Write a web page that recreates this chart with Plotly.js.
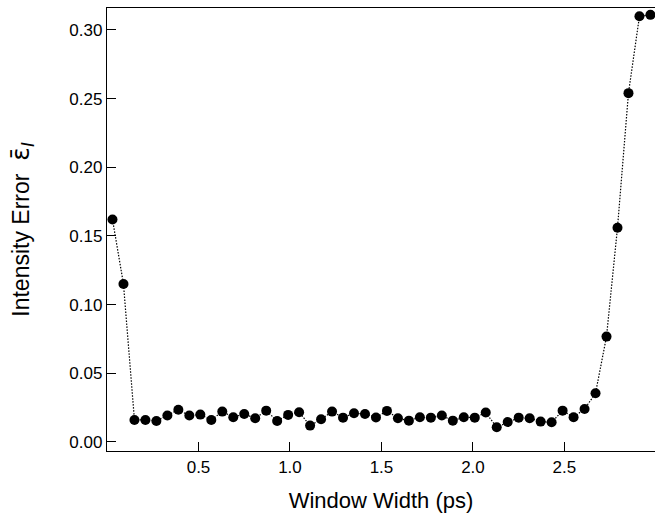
<!DOCTYPE html>
<html>
<head>
<meta charset="utf-8">
<script src="https://cdn.plot.ly/plotly-3.0.1.min.js"></script>
<style>html,body{margin:0;padding:0;background:#fff;}#chart{width:655px;height:516px;}</style>
</head>
<body>
<div id="chart"></div>
<script>
// Window width (ps)
const windowWidth = [0.03, 0.09, 0.15, 0.21, 0.27, 0.33, 0.39, 0.45, 0.51, 0.57,
  0.63, 0.69, 0.75, 0.81, 0.87, 0.93, 0.99, 1.05, 1.11, 1.17,
  1.23, 1.29, 1.35, 1.41, 1.47, 1.53, 1.59, 1.65, 1.71, 1.77,
  1.83, 1.89, 1.95, 2.01, 2.07, 2.13, 2.19, 2.25, 2.31, 2.37,
  2.43, 2.49, 2.55, 2.61, 2.67, 2.73, 2.79, 2.85, 2.91, 2.97];
// Intensity error
const intensityError = [0.162, 0.115, 0.016, 0.016, 0.0153, 0.0192, 0.0235, 0.0192, 0.0199, 0.016,
  0.0221, 0.018, 0.0204, 0.0172, 0.0228, 0.0153, 0.0197, 0.0216, 0.0119, 0.0165,
  0.0221, 0.0177, 0.0209, 0.0204, 0.0178, 0.0226, 0.0172, 0.0155, 0.018, 0.0177,
  0.0192, 0.0155, 0.018, 0.0177, 0.0214, 0.0107, 0.0145, 0.0177, 0.0172, 0.0148,
  0.0143, 0.0228, 0.018, 0.024, 0.0355, 0.0767, 0.156, 0.254, 0.310, 0.311];
const xTickVals = [0.5, 1.0, 1.5, 2.0, 2.5];
const xTickText = ['0.5', '1.0', '1.5', '2.0', '2.5'];
const yTickVals = [0.00, 0.05, 0.10, 0.15, 0.20, 0.25, 0.30];
const yTickText = ['0.00', '0.05', '0.10', '0.15', '0.20', '0.25', '0.30'];
const xTitle = 'Window Width (ps)';
const yTitle = 'Intensity Error\u00A0 <span style="font-family:DejaVu Sans;font-size:25px">\u03B5\u0304</span><sub><i><span style="font-size:18px">I</span></i></sub>';

const font = 'Liberation Sans, Arial, Helvetica, sans-serif';

Plotly.newPlot('chart', [{
  x: windowWidth,
  y: intensityError,
  type: 'scatter',
  mode: 'lines+markers',
  line: {color: '#000', width: 1.2, dash: '1.5px,1.5px'},
  marker: {color: '#000', size: 10, symbol: 'circle'},
  showlegend: false,
  hoverinfo: 'skip'
}], {
  width: 655, height: 516,
  margin: {l: 107, r: 0, t: 8, b: 65, pad: 0},
  paper_bgcolor: '#fff', plot_bgcolor: '#fff',
  font: {family: font, color: '#000', size: 17},
  xaxis: {
    range: [0, 2.995],
    tickvals: xTickVals, ticktext: xTickText,
    ticks: 'inside', ticklen: 9, tickwidth: 1, tickcolor: '#000',
    showline: true, linecolor: '#000', linewidth: 1.2, mirror: true,
    showgrid: false, zeroline: false,
    tickfont: {size: 17},
    title: {text: xTitle, font: {size: 22}, standoff: 17},
    automargin: false
  },
  yaxis: {
    range: [-0.0066, 0.316],
    tickvals: yTickVals, ticktext: yTickText,
    ticks: 'inside', ticklen: 9, tickwidth: 1, tickcolor: '#000',
    showline: true, linecolor: '#000', linewidth: 1.2, mirror: false,
    showgrid: false, zeroline: false,
    tickfont: {size: 17},
    title: {text: yTitle, font: {size: 23}, standoff: 33},
    automargin: false
  }
}, {staticPlot: true, displayModeBar: false});
</script>
</body>
</html>
